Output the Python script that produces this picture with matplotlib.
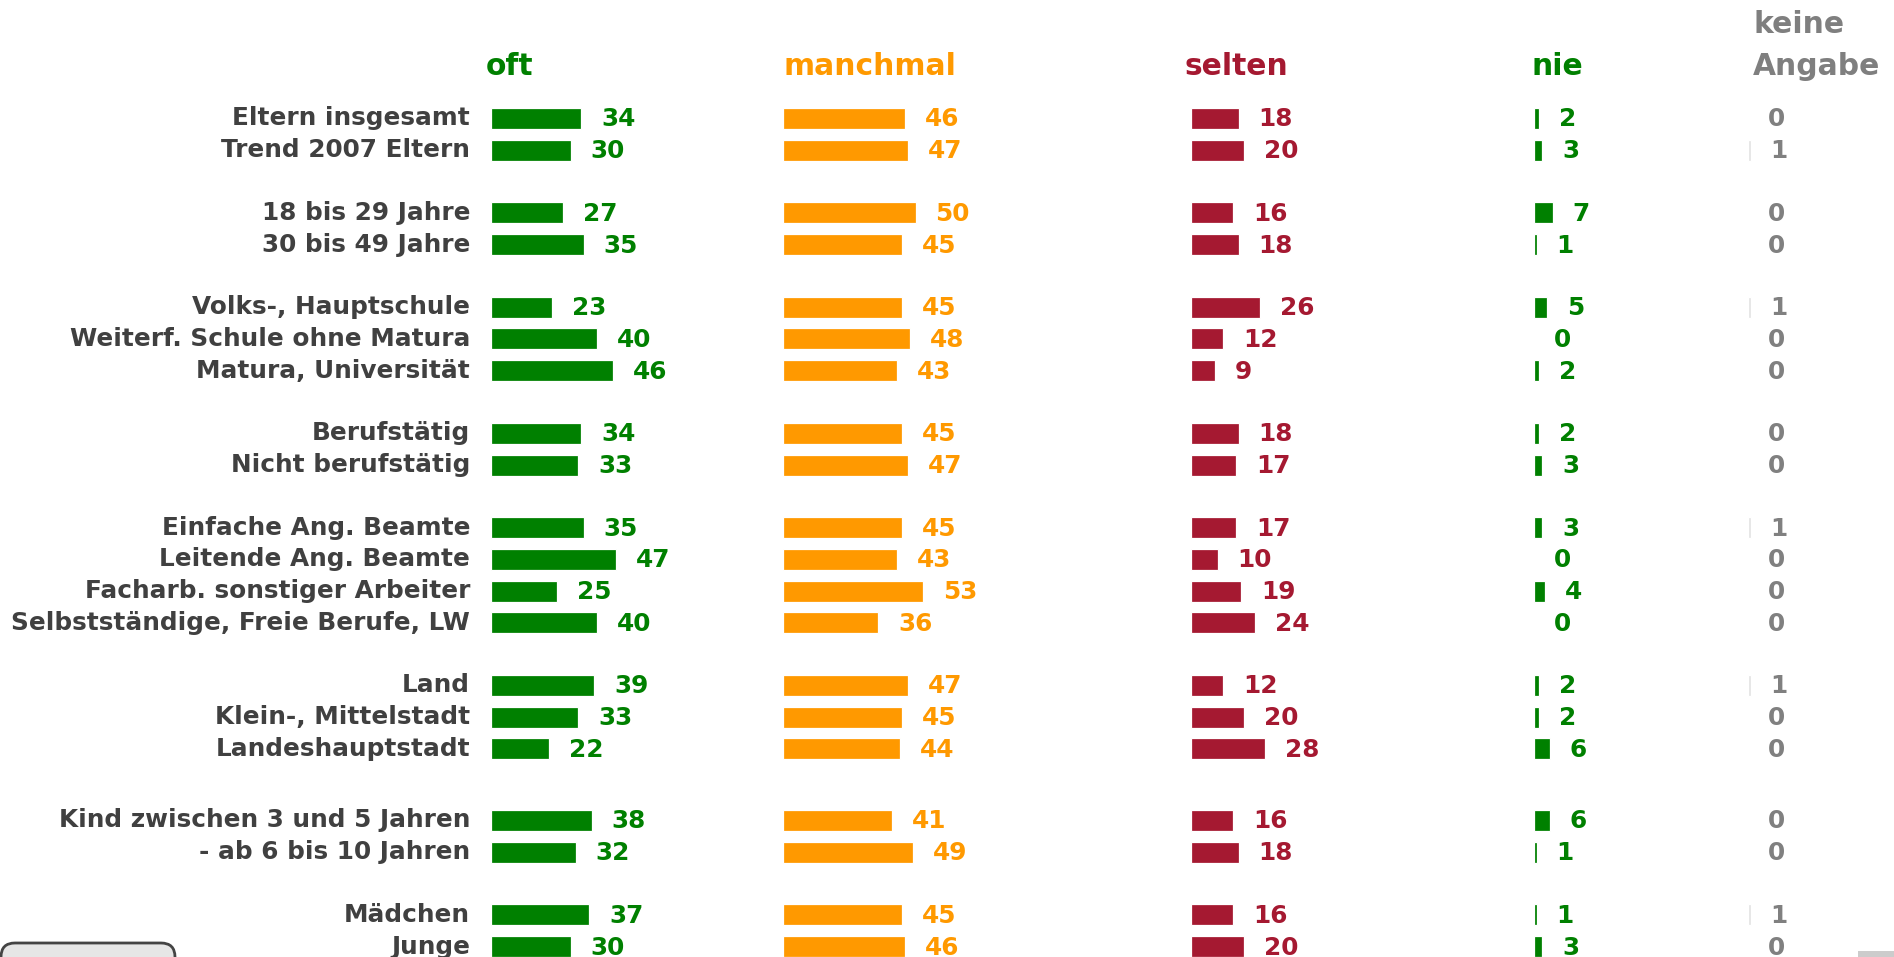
import matplotlib
matplotlib.use("Agg")
import matplotlib.pyplot as plt
from matplotlib.patches import FancyBboxPatch, Rectangle

plt.rcParams['font.family'] = ['DejaVu Sans']

# ---------------- data ----------------
categories = [
    "Eltern insgesamt", "Trend 2007 Eltern",
    "18 bis 29 Jahre", "30 bis 49 Jahre",
    "Volks-, Hauptschule", "Weiterf. Schule ohne Matura", "Matura, Universität",
    "Berufstätig", "Nicht berufstätig",
    "Einfache Ang. Beamte", "Leitende Ang. Beamte", "Facharb. sonstiger Arbeiter",
    "Selbstständige, Freie Berufe, LW",
    "Land", "Klein-, Mittelstadt", "Landeshauptstadt",
    "Kind zwischen 3 und 5 Jahren", "- ab 6 bis 10 Jahren",
    "Mädchen", "Junge",
]
group_sizes = [2, 2, 3, 2, 4, 3, 2, 2]

oft      = [34, 30, 27, 35, 23, 40, 46, 34, 33, 35, 47, 25, 40, 39, 33, 22, 38, 32, 37, 30]
manchmal = [46, 47, 50, 45, 45, 48, 43, 45, 47, 45, 43, 53, 36, 47, 45, 44, 41, 49, 45, 46]
selten   = [18, 20, 16, 18, 26, 12, 9, 18, 17, 17, 10, 19, 24, 12, 20, 28, 16, 18, 16, 20]
nie      = [2, 3, 7, 1, 5, 0, 2, 2, 3, 3, 0, 4, 0, 2, 2, 6, 6, 1, 1, 3]
keine    = [0, 1, 0, 0, 1, 0, 0, 0, 0, 1, 0, 0, 0, 1, 0, 0, 0, 0, 1, 0]

series_names = ["oft", "manchmal", "selten", "nie", ("keine", "Angabe")]
series_values = [oft, manchmal, selten, nie, keine]

# ---------------- style / layout ----------------
W, H = 1894, 957
colors = ["#008000", "#FF9900", "#A51931", "#008000", "#E4E4E4"]
text_colors = ["#008000", "#FF9900", "#A51931", "#008000", "#808080"]
header_colors = ["#008000", "#FF9900", "#A51931", "#008000", "#7F7F7F"]
col_start = [491, 783, 1191, 1534, 1748]
header_x = [486, 783, 1184, 1532, 1753]
px_per_unit = 2.65
label_gap = 20
label_x = 470
y0, step, gap = 118.5, 31.8, 62.5
extra_gap = {6: 9}  # extra space before group index 6

ypos = []
y = y0
for gi, n in enumerate(group_sizes):
    if gi > 0:
        y += gap + extra_gap.get(gi, 0)
    for k in range(n):
        if k > 0:
            y += step
        ypos.append(y)

fig = plt.figure(figsize=(W / 100, H / 100), dpi=100)
ax = fig.add_axes([0, 0, 1, 1])
ax.set_xlim(0, W)
ax.set_ylim(H, 0)
ax.axis("off")

FS = 17.8
HFS = 21.4

for yy, cat in zip(ypos, categories):
    ax.text(label_x, yy, cat, ha="right", va="center", fontsize=FS,
            fontweight="bold", color="#404040")

for si, vals in enumerate(series_values):
    widths = [v * px_per_unit for v in vals]
    ax.barh(ypos, widths, left=col_start[si], height=21,
            color=colors[si], edgecolor="white", linewidth=0.9)
    for yy, v, w in zip(ypos, vals, widths):
        ax.text(col_start[si] + w + label_gap, yy + 1, str(v), ha="left",
                va="center", fontsize=FS, fontweight="bold",
                color=text_colors[si])

# headers
for si, name in enumerate(series_names):
    if isinstance(name, tuple):
        ax.text(header_x[si], 33, name[0], ha="left", va="baseline",
                fontsize=HFS, fontweight="bold", color=header_colors[si])
        ax.text(header_x[si], 75, name[1], ha="left", va="baseline",
                fontsize=HFS, fontweight="bold", color=header_colors[si])
    else:
        ax.text(header_x[si], 75, name, ha="left", va="baseline",
                fontsize=HFS, fontweight="bold", color=header_colors[si])

# decorative page remnants at the bottom
btn = FancyBboxPatch((1, 943), 174, 40, boxstyle="round,pad=0,rounding_size=14",
                     facecolor="#E6E6E6", edgecolor="#444444", linewidth=2,
                     clip_on=True)
ax.add_patch(btn)
ax.add_patch(Rectangle((1858, 951), 36, 10, facecolor="#CCCCCC", edgecolor="none"))

fig.savefig("out.png", dpi=100, facecolor="white")
